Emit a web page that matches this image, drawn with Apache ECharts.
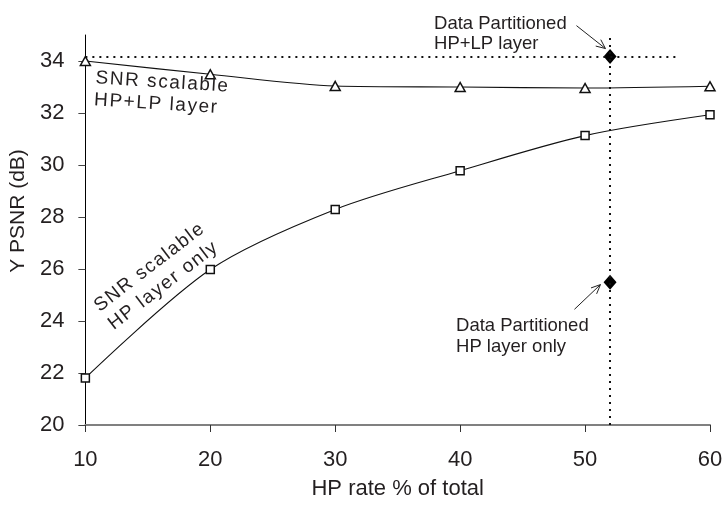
<!DOCTYPE html>
<html><head><meta charset="utf-8">
<script src="https://cdn.jsdelivr.net/npm/echarts@6/dist/echarts.min.js"></script>
<style>html,body{margin:0;padding:0;background:#fff}#c{width:726px;height:505px}</style>
</head><body><div id="c"></div>
<script>
// ---- data ----
const hpRate = [10, 20, 30, 40, 50, 60];
const snrHpLp = [34.0, 33.49, 33.04, 33.0, 32.96, 33.03];
const snrHpOnly = [21.81, 25.98, 28.29, 29.78, 31.13, 31.93];
const dpRate = [52];
const dpHpLp = [34.17];
const dpHpOnly = [25.49];
const xTickValues = [10, 20, 30, 40, 50, 60];
const yTickValues = [20, 22, 24, 26, 28, 30, 32, 34];
const xTitle = 'HP rate % of total';
const yTitle = 'Y PSNR (dB)';
const labelSnrHpLp = ['SNR scalable', 'HP+LP layer'];
const labelSnrHpOnly = ['SNR scalable', 'HP layer only'];
const labelDpHpLp = ['Data Partitioned', 'HP+LP layer'];
const labelDpHpOnly = ['Data Partitioned', 'HP layer only'];

const FONT = '"Liberation Sans", Arial, Helvetica, sans-serif';
const INK = '#231f20';
const spaced = s => s.split('').join('\u200A');

const chart = echarts.init(document.getElementById('c'), null, {renderer: 'canvas'});
const pair = (xs, ys) => xs.map((x, i) => [x, ys[i]]);

chart.setOption({
  animation: false,
  backgroundColor: '#fff',
  grid: {left: 83, right: 16, top: 35, bottom: 75},
  xAxis: {
    type: 'value', min: 10, max: 60, interval: 10,
    name: xTitle, nameLocation: 'middle', nameGap: 53,
    nameTextStyle: {fontFamily: FONT, fontSize: 22, color: INK},
    axisLine: {lineStyle: {color: '#808080', width: 2}},
    axisTick: {length: 7, customValues: xTickValues, lineStyle: {color: '#333', width: 1}},
    axisLabel: {margin: 24, customValues: xTickValues, fontFamily: FONT, fontSize: 22, color: INK},
    splitLine: {show: false}
  },
  yAxis: {
    type: 'value', min: 20, max: 35,
    name: yTitle, nameLocation: 'middle', nameGap: 43, nameRotate: 90,
    nameTextStyle: {fontFamily: FONT, fontSize: 21, color: INK, padding: [0, 0, 0, 38]},
    axisLine: {show: true, lineStyle: {color: '#000', width: 1}},
    axisTick: {show: true, length: 7, customValues: yTickValues, lineStyle: {color: '#444', width: 1}},
    axisLabel: {margin: 21, customValues: yTickValues, fontFamily: FONT, fontSize: 22, color: INK},
    splitLine: {show: false}
  },
  series: [
    {
      type: 'line', data: pair(hpRate, snrHpLp), smooth: 0.3,
      symbol: 'triangle', symbolSize: [10, 9],
      lineStyle: {color: '#111', width: 1.1},
      itemStyle: {color: '#fff', borderColor: '#111', borderWidth: 1.5}, z: 3
    },
    {
      type: 'line', data: pair(hpRate, snrHpOnly), smooth: 0.3,
      symbol: 'rect', symbolSize: 8,
      lineStyle: {color: '#111', width: 1.1},
      itemStyle: {color: '#fff', borderColor: '#111', borderWidth: 1.5}, z: 3
    },
    {
      type: 'scatter', data: pair(dpRate, dpHpLp).concat(pair(dpRate, dpHpOnly)),
      symbol: 'diamond', symbolSize: [13, 15],
      itemStyle: {color: '#000', opacity: 1}, z: 4,
      markLine: {
        silent: true, symbol: 'none', animation: false,
        label: {show: false},
        lineStyle: {color: '#111', width: 2, type: [2, 5], opacity: 1},
        data: [
          [{coord: [10, dpHpLp[0]]}, {coord: [57.5, dpHpLp[0]]}],
          [{coord: [dpRate[0], 20]}, {coord: [dpRate[0], 35]}]
        ]
      }
    }
  ]
});

function px(x, y) { return chart.convertToPixel({gridIndex: 0}, [x, y]); }
function textEl(lines, at, opts) {
  const p = px(at[0], at[1]);
  return {
    type: 'text', x: p[0], y: p[1], rotation: opts.rotation || 0, z: 10,
    style: {
      text: lines.join('\n'), fill: INK, fontFamily: FONT, fontSize: opts.fontSize,
      lineHeight: opts.lineHeight, textAlign: 'left', textVerticalAlign: 'middle',
      align: 'left', verticalAlign: 'middle'
    }
  };
}
function arrowEls(from, to) {
  const a = px(from[0], from[1]), b = px(to[0], to[1]);
  const ang = Math.atan2(b[1] - a[1], b[0] - a[0]);
  const L = 10, w = 0.42;
  const h1 = [b[0] - L * Math.cos(ang - w), b[1] - L * Math.sin(ang - w)];
  const h2 = [b[0] - L * Math.cos(ang + w), b[1] - L * Math.sin(ang + w)];
  return [
    {type: 'polyline', z: 10, shape: {points: [a, b]}, style: {stroke: '#222', lineWidth: 1, fill: null}},
    {type: 'polyline', z: 10, shape: {points: [h1, b, h2]}, style: {stroke: '#222', lineWidth: 1, fill: null}}
  ];
}

const graphics = [
  textEl(labelSnrHpLp.map(spaced), [10.76, 32.92], {fontSize: 19, lineHeight: 22, rotation: -0.062}),
  textEl(labelSnrHpOnly.map(spaced), [11.45, 24.15], {fontSize: 19, lineHeight: 23, rotation: 0.655}),
  textEl(labelDpHpLp, [37.91, 35.03], {fontSize: 18.5, lineHeight: 20}),
  textEl(labelDpHpOnly, [39.67, 23.42], {fontSize: 18.5, lineHeight: 21})
].concat(arrowEls([49.31, 35.36], [51.63, 34.48]))
 .concat(arrowEls([49.15, 24.45], [51.23, 25.40]));

chart.setOption({graphic: graphics});
</script>
</body></html>
